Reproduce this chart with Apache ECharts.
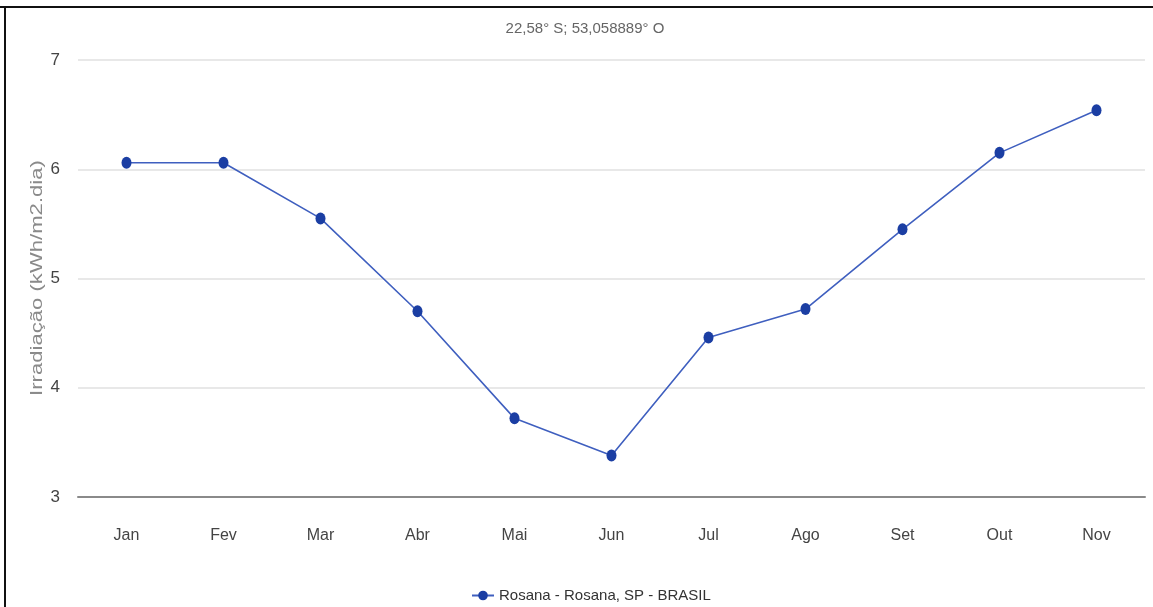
<!DOCTYPE html>
<html>
<head>
<meta charset="utf-8">
<script src="https://cdn.jsdelivr.net/npm/echarts@6/dist/echarts.min.js"></script>
<style>
  html, body { margin: 0; padding: 0; background: #fff; }
  #chart { width: 1153px; height: 607px; }
</style>
</head>
<body>
<div id="chart"></div>
<script>
const months = ['Jan', 'Fev', 'Mar', 'Abr', 'Mai', 'Jun', 'Jul', 'Ago', 'Set', 'Out', 'Nov'];
const irradiacao = [6.06, 6.06, 5.55, 4.70, 3.72, 3.38, 4.46, 4.72, 5.45, 6.15, 6.54];
const seriesName = 'Rosana - Rosana, SP - BRASIL';
const subtitle = '22,58° S; 53,058889° O';
const yAxisName = 'Irradiação (kWh/m2.dia)';
const yTicks = { min: 3, max: 7, interval: 1 };

const sans = '"Liberation Sans", Arial, sans-serif';

const chart = echarts.init(document.getElementById('chart'), null, { renderer: 'canvas' });
chart.setOption({
  animation: false,
  backgroundColor: '#ffffff',
  grid: { left: 78, right: 8, top: 60, bottom: 110, containLabel: false },
  graphic: [
    { type: 'rect', shape: { x: 0, y: 6, width: 1153, height: 2 }, style: { fill: '#111' }, silent: true },
    { type: 'rect', shape: { x: 4, y: 6, width: 2, height: 601 }, style: { fill: '#111' }, silent: true },
    { type: 'text', x: 585, y: 21, style: { text: subtitle, fill: '#666', font: '15px ' + sans, textAlign: 'center', textVerticalAlign: 'top' }, silent: true },
    { type: 'text', x: 37, y: 278, rotation: Math.PI / 2, scaleX: 1.3, style: { text: yAxisName, fill: '#8a8a8a', font: '17px ' + sans, textAlign: 'center', textVerticalAlign: 'middle' }, silent: true }
  ],
  legend: {
    data: [seriesName],
    left: 466,
    top: 583,
    itemWidth: 22,
    itemHeight: 12,
    itemGap: 4,
    textStyle: { color: '#333', fontSize: 15, fontFamily: sans }
  },
  xAxis: {
    type: 'category',
    data: months,
    boundaryGap: true,
    axisTick: { show: false },
    axisLine: { show: true, lineStyle: { color: '#8a8a8a', width: 2 } },
    axisLabel: { color: '#444', fontSize: 16, fontFamily: sans, margin: 31 },
    splitLine: { show: false }
  },
  yAxis: {
    type: 'value',
    min: yTicks.min,
    max: yTicks.max,
    interval: yTicks.interval,
    axisLine: { show: false },
    axisTick: { show: false },
    axisLabel: { color: '#444', fontSize: 17, fontFamily: sans, margin: 18 },
    splitLine: { show: true, lineStyle: { color: '#e8e8e8', width: 2 } }
  },
  series: [{
    name: seriesName,
    type: 'line',
    data: irradiacao,
    symbol: 'circle',
    symbolSize: [10, 12],
    lineStyle: { color: '#3f5fbf', width: 1.6 },
    itemStyle: { color: '#1b3ea3' }
  }]
});
</script>
</body>
</html>
